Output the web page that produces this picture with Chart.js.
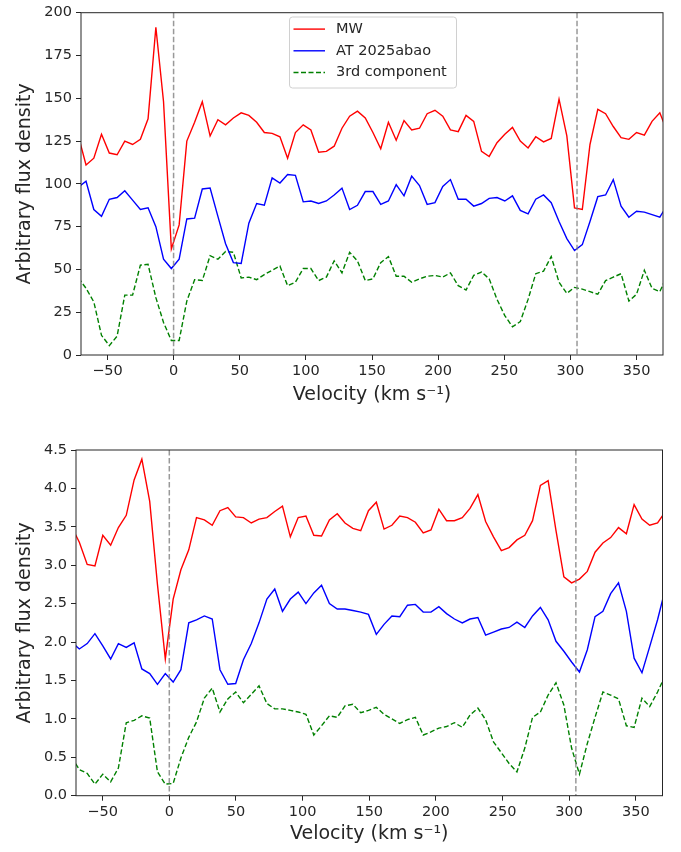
<!DOCTYPE html>
<html>
<head>
<meta charset="utf-8">
<script src="https://cdn.jsdelivr.net/npm/chart.js@4.4.0/dist/chart.umd.min.js"></script>
<style>
  body { margin: 0; background: #fff; }
  .panel { position: absolute; left: 0; width: 681px; height: 426px; }
</style>
</head>
<body>
<div class="panel" style="top:0"><canvas id="topChart" width="681" height="426"></canvas></div>
<div class="panel" style="top:426px"><canvas id="bottomChart" width="681" height="426"></canvas></div>
<script>
// velocity grids (km/s) for the two lines
const velocityTop = [-72.0, -66.2, -60.3, -54.5, -48.6, -42.7, -36.9, -31.0, -25.1, -19.3, -13.4, -7.6, -1.7, 4.2, 10.0, 15.9, 21.7, 27.6, 33.5, 39.3, 45.2, 51.1, 56.9, 62.8, 68.6, 74.5, 80.4, 86.2, 92.1, 98.0, 103.8, 109.7, 115.5, 121.4, 127.3, 133.1, 139.0, 144.9, 150.7, 156.6, 162.4, 168.3, 174.2, 180.0, 185.9, 191.7, 197.6, 203.5, 209.3, 215.2, 221.1, 226.9, 232.8, 238.6, 244.5, 250.4, 256.2, 262.1, 268.0, 273.8, 279.7, 285.5, 291.4, 297.3, 303.1, 309.0, 314.8, 320.7, 326.6, 332.4, 338.3, 344.2, 350.0, 355.9, 361.7, 367.6, 373.5];
const velocityBottom = [-73.3, -67.5, -61.6, -55.8, -49.9, -44.0, -38.2, -32.3, -26.4, -20.6, -14.7, -8.9, -3.0, 2.9, 8.7, 14.6, 20.4, 26.3, 32.2, 38.0, 43.9, 49.8, 55.6, 61.5, 67.3, 73.2, 79.1, 84.9, 90.8, 96.7, 102.5, 108.4, 114.2, 120.1, 126.0, 131.8, 137.7, 143.6, 149.4, 155.3, 161.1, 167.0, 172.9, 178.7, 184.6, 190.5, 196.3, 202.2, 208.0, 213.9, 219.8, 225.6, 231.5, 237.3, 243.2, 249.1, 254.9, 260.8, 266.7, 272.5, 278.4, 284.2, 290.1, 296.0, 301.8, 307.7, 313.6, 319.4, 325.3, 331.1, 337.0, 342.9, 348.7, 354.6, 360.4, 366.3, 372.2];

// top panel fluxes
const mwTop = [128, 111, 115, 129, 118, 117, 125, 123, 126, 138, 191.5, 148, 62, 76, 125, 136, 148, 128, 137.5, 134.5, 138.5, 141.5, 140, 136, 130, 129.5, 127.5, 115, 130, 134.5, 131.5, 118.5, 119, 122, 132.5, 139.5, 142.5, 138.5, 130, 120.5, 136, 125.5, 137, 131.5, 132.5, 141, 143, 139.5, 131.5, 130.5, 140, 136.5, 119, 116, 124, 129, 133, 125, 121, 127.5, 124.5, 126.5, 149.5, 128, 86, 85, 123, 143.5, 141, 133.5, 127, 126, 130, 128.5, 136.5, 141.5, 130];
const abaoTop = [98, 101.5, 85, 81, 91, 92, 96, 90.5, 85, 86, 75, 56, 50.5, 56, 79.5, 80, 97, 97.5, 81, 65, 54, 53.5, 77, 88.5, 87.5, 103.5, 100.5, 105.5, 105, 89.5, 90, 88.5, 90, 93.5, 97.5, 85, 87.5, 95.5, 95.5, 88, 90, 99.5, 93, 104.5, 99, 88, 89, 98.5, 102.5, 91, 91, 87, 88.5, 91.5, 92, 90, 93, 84.5, 82.5, 91, 93.5, 89, 78, 68, 61, 64.5, 78, 92.5, 93.5, 102.5, 87, 80.5, 84, 83.5, 82, 80.5, 88];
const thirdTop = [45, 39, 31, 11.5, 5.5, 11, 35, 35, 52.5, 53, 33.5, 19, 8.5, 8.5, 31.5, 44, 43.5, 58, 56, 60.5, 60, 45, 45.5, 44, 47, 49.5, 52, 40.5, 42.5, 50.5, 50.5, 43.5, 45.5, 55, 48, 60, 55, 43.5, 44.5, 54, 57.5, 46, 46, 42.5, 44.5, 46, 46.5, 45.5, 48, 40.5, 38, 46.5, 48.5, 44.5, 32.5, 23, 16.5, 19.5, 32.5, 47.5, 49, 57.5, 42.5, 36, 39.5, 38.5, 37, 35.5, 43.5, 45.5, 47.5, 31.5, 35.5, 49.5, 39, 37, 47];

// bottom panel fluxes
const mwBottom = [3.5, 3.3, 3.01, 2.99, 3.39, 3.26, 3.49, 3.65, 4.11, 4.38, 3.83, 2.75, 1.78, 2.56, 2.94, 3.2, 3.62, 3.59, 3.52, 3.71, 3.75, 3.63, 3.62, 3.55, 3.6, 3.62, 3.7, 3.77, 3.37, 3.62, 3.64, 3.39, 3.38, 3.59, 3.67, 3.55, 3.48, 3.45, 3.71, 3.82, 3.47, 3.52, 3.64, 3.62, 3.56, 3.42, 3.46, 3.73, 3.58, 3.58, 3.62, 3.74, 3.92, 3.57, 3.37, 3.19, 3.23, 3.33, 3.39, 3.58, 4.04, 4.1, 3.45, 2.85, 2.77, 2.82, 2.92, 3.17, 3.29, 3.36, 3.49, 3.41, 3.79, 3.6, 3.52, 3.55, 3.7];
const abaoBottom = [2.0, 1.91, 1.98, 2.11, 1.95, 1.78, 1.98, 1.93, 1.99, 1.65, 1.59, 1.45, 1.59, 1.48, 1.64, 2.25, 2.29, 2.34, 2.3, 1.64, 1.45, 1.46, 1.77, 1.98, 2.25, 2.56, 2.69, 2.4, 2.56, 2.65, 2.5, 2.64, 2.74, 2.5, 2.43, 2.43, 2.41, 2.39, 2.36, 2.1, 2.23, 2.34, 2.33, 2.48, 2.49, 2.39, 2.39, 2.46, 2.37, 2.3, 2.25, 2.3, 2.32, 2.09, 2.13, 2.17, 2.19, 2.26, 2.19, 2.34, 2.45, 2.29, 2.01, 1.88, 1.74, 1.61, 1.9, 2.33, 2.4, 2.63, 2.77, 2.4, 1.79, 1.6, 1.94, 2.29, 2.7];
const thirdBottom = [0.5, 0.34, 0.29, 0.15, 0.28, 0.18, 0.36, 0.95, 0.98, 1.04, 1.01, 0.31, 0.15, 0.16, 0.49, 0.76, 0.96, 1.27, 1.4, 1.09, 1.26, 1.35, 1.21, 1.32, 1.43, 1.2, 1.13, 1.13, 1.11, 1.09, 1.06, 0.79, 0.91, 1.04, 1.02, 1.17, 1.19, 1.08, 1.11, 1.15, 1.06, 1.0, 0.94, 0.99, 1.02, 0.79, 0.83, 0.88, 0.9, 0.95, 0.89, 1.05, 1.14, 0.99, 0.7, 0.56, 0.42, 0.31, 0.62, 1.02, 1.09, 1.31, 1.47, 1.18, 0.62, 0.28, 0.68, 1.02, 1.35, 1.31, 1.26, 0.91, 0.89, 1.27, 1.16, 1.35, 1.57];

const seriesNames = ['MW', 'AT 2025abao', '3rd component'];
const velocityTicks = [-50, 0, 50, 100, 150, 200, 250, 300, 350];
const fluxTicksTop = [0, 25, 50, 75, 100, 125, 150, 175, 200];
const fluxTicksBottom = [0, 0.5, 1.0, 1.5, 2.0, 2.5, 3.0, 3.5, 4.0, 4.5];
const markerVelocities = [0, 305];

const FONT = 'DejaVu Sans';
const INK = '#262626';
Chart.defaults.font.family = FONT;

function minusSign(v) {
    return v < 0 ? '\u2212' + Math.abs(v) : String(v);
}

// box, vertical dashed markers and an in-axes legend
const axesDecor = {
    id: 'axesDecor',
    afterDatasetsDraw(chart) {
        const {ctx, chartArea: a, scales} = chart;
        ctx.save();
        ctx.strokeStyle = 'rgba(128,128,128,0.8)';
        ctx.lineWidth = 1.5;
        ctx.setLineDash([5.5, 2.5]);
        markerVelocities.forEach(v => {
            const px = scales.x.getPixelForValue(v);
            ctx.beginPath();
            ctx.moveTo(px, a.top);
            ctx.lineTo(px, a.bottom);
            ctx.stroke();
        });
        ctx.setLineDash([]);
        ctx.strokeStyle = INK;
        ctx.lineWidth = 1;
        ctx.strokeRect(a.left, a.top, a.right - a.left, a.bottom - a.top);
        ctx.restore();
    },
    afterDraw(chart, args, opts) {
        if (!opts.show) return;
        const {ctx} = chart;
        const bx = opts.x, by = opts.y, bw = opts.w, bh = opts.h;
        ctx.save();
        ctx.fillStyle = 'rgba(255,255,255,0.8)';
        ctx.strokeStyle = '#d0d0d0';
        ctx.lineWidth = 1;
        ctx.beginPath();
        ctx.roundRect(bx + 0.5, by + 0.5, bw, bh, 3);
        ctx.fill();
        ctx.stroke();
        ctx.font = '14.5px ' + FONT;
        ctx.textBaseline = 'middle';
        ctx.fillStyle = INK;
        chart.data.datasets.forEach((ds, i) => {
            const ry = by + 12.6 + i * 21.7;
            ctx.strokeStyle = ds.borderColor;
            ctx.lineWidth = ds.borderWidth;
            ctx.setLineDash(ds.borderDash || []);
            ctx.beginPath();
            ctx.moveTo(bx + 4.5, ry);
            ctx.lineTo(bx + 36, ry);
            ctx.stroke();
            ctx.setLineDash([]);
            ctx.fillText(ds.label, bx + 47, ry);
        });
        ctx.restore();
    }
};

function makePanel(id, velocity, mw, abao, third, cfg) {
    const pts = ys => ys.map((y, i) => ({x: velocity[i], y: y}));
    const colors = ['#ff0000', '#0000ff', '#008000'];
    const sets = [mw, abao, third].map((ys, i) => ({
        label: seriesNames[i],
        data: pts(ys),
        borderColor: colors[i],
        borderWidth: 1.4,
        borderDash: i === 2 ? [5, 2.5] : [],
        pointRadius: 0,
        tension: 0,
        fill: false
    }));

    new Chart(document.getElementById(id), {
        type: 'line',
        data: { datasets: sets },
        options: {
            responsive: false,
            animation: false,
            devicePixelRatio: 1,
            layout: { padding: cfg.padding },
            plugins: {
                legend: { display: false },
                tooltip: { enabled: false },
                axesDecor: cfg.legend
            },
            scales: {
                x: {
                    type: 'linear',
                    min: -70,
                    max: 370,
                    afterBuildTicks: s => { s.ticks = velocityTicks.map(v => ({value: v})); },
                    afterFit: s => { s.height = cfg.xAxisHeight; },
                    border: { display: false },
                    grid: { drawOnChartArea: false, drawTicks: true, tickLength: 5, color: INK },
                    ticks: { font: {size: 14.5}, color: INK, padding: 3, maxRotation: 0, callback: v => minusSign(v) },
                    title: {
                        display: true,
                        text: 'Velocity (km s\u207B\u00B9)',
                        font: {size: 19},
                        color: INK,
                        padding: {top: 0, bottom: cfg.xTitlePad}
                    }
                },
                y: {
                    min: 0,
                    max: cfg.yMax,
                    afterBuildTicks: s => { s.ticks = cfg.yTicks.map(v => ({value: v})); },
                    afterFit: s => { s.width = cfg.yAxisWidth; },
                    border: { display: false },
                    grid: { drawOnChartArea: false, drawTicks: true, tickLength: 5, color: INK },
                    ticks: { font: {size: 14.5}, color: INK, padding: 4, callback: cfg.yFormat },
                    title: {
                        display: true,
                        text: 'Arbitrary flux density',
                        font: {size: 19},
                        color: INK,
                        padding: {top: 13.6, bottom: 0}
                    }
                }
            }
        },
        plugins: [axesDecor]
    });
}

makePanel('topChart', velocityTop, mwTop, abaoTop, thirdTop, {
    yMax: 200,
    yTicks: fluxTicksTop,
    yFormat: v => String(v),
    yAxisWidth: 81,
    xAxisHeight: 71,
    xTitlePad: 19.6,
    padding: {top: 8.4, right: 18, left: 0, bottom: 0},
    legend: {show: true, x: 289, y: 16.5, w: 167, h: 71}
});

makePanel('bottomChart', velocityBottom, mwBottom, abaoBottom, thirdBottom, {
    yMax: 4.5,
    yTicks: fluxTicksBottom,
    yFormat: v => v.toFixed(1),
    yAxisWidth: 76,
    xAxisHeight: 56.3,
    xTitlePad: 6.6,
    padding: {top: 24, right: 18.5, left: 0, bottom: 0},
    legend: {show: false}
});
</script>
</body>
</html>
